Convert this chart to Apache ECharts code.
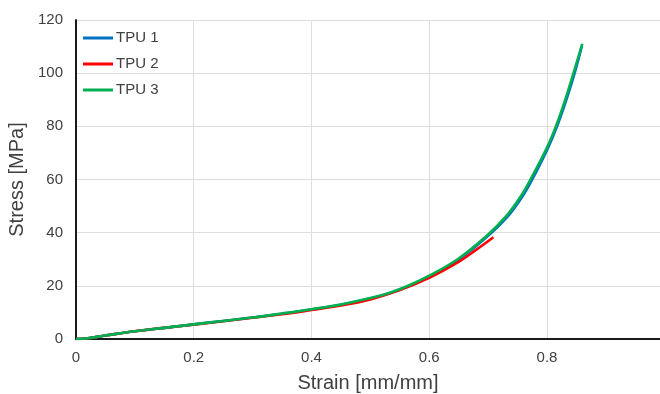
<!DOCTYPE html>
<html>
<head>
<meta charset="utf-8">
<script src="https://cdn.jsdelivr.net/npm/echarts@6/dist/echarts.min.js"></script>
<style>
html,body{margin:0;padding:0;background:#fff;}
#chart{width:660px;height:394px;}
</style>
</head>
<body>
<div id="chart"></div>
<script>
const seriesNames = ['TPU 1', 'TPU 2', 'TPU 3'];
const seriesColors = ['#0070C0', '#FF0000', '#00B050'];

const tpu1 = [[0,0],[0.02,0.3],[0.05,1.3],[0.1,2.9],[0.15,4.2],[0.2,5.5],[0.25,6.8],[0.3,8.1],[0.35,9.5],[0.4,11.1],[0.45,12.9],[0.5,15.2],[0.533,17.2],[0.567,20.0],[0.6,23.5],[0.65,29.9],[0.7,38.8],[0.733,46],[0.758,53.5],[0.775,60],[0.802,72],[0.818,80.5],[0.833,90],[0.847,100],[0.859,110]];
const tpu2 = [[0,0],[0.02,0.3],[0.05,1.3],[0.1,2.9],[0.15,4.2],[0.2,5.4],[0.25,6.7],[0.3,8.0],[0.35,9.3],[0.4,10.9],[0.45,12.6],[0.5,14.9],[0.55,18.4],[0.6,23.0],[0.65,29.0],[0.68,33.6],[0.709,38.3]];
const tpu3 = [[0,0],[0.02,0.3],[0.05,1.3],[0.1,2.9],[0.15,4.2],[0.2,5.5],[0.25,6.8],[0.3,8.1],[0.35,9.6],[0.4,11.2],[0.45,13.0],[0.5,15.4],[0.533,17.4],[0.567,20.3],[0.6,23.8],[0.65,30.3],[0.7,39.3],[0.73,46],[0.755,53.5],[0.772,60],[0.8,72],[0.816,80.5],[0.831,90],[0.845,100],[0.86,111]];
const seriesData = [tpu1, tpu2, tpu3];

const xTicks = [0, 0.2, 0.4, 0.6, 0.8];
const yTicks = [0, 20, 40, 60, 80, 100, 120];

const font = '"Liberation Sans", Arial, sans-serif';
const chart = echarts.init(document.getElementById('chart'), null, {renderer: 'canvas'});
chart.setOption({
  animation: false,
  backgroundColor: '#fff',
  grid: {left: 76, right: 0, top: 20, bottom: 55, containLabel: false, outerBoundsMode: 'none'},
  legend: {
    orient: 'vertical', left: 83, top: 25, padding: 0,
    icon: 'rect', itemWidth: 30, itemHeight: 3, itemGap: 0,
    textStyle: {fontFamily: font, fontSize: 15, color: '#404040', lineHeight: 26, padding: [0,0,0,-2]},
    data: seriesNames
  },
  xAxis: {
    type: 'value', min: 0, max: 0.992, interval: 0.2,
    name: 'Strain [mm/mm]', nameLocation: 'middle', nameGap: 34,
    nameTextStyle: {fontFamily: font, fontSize: 20, color: '#404040'},
    axisLine: {show: true, lineStyle: {color: '#1a1a1a', width: 2}},
    axisTick: {show: false},
    axisLabel: {fontFamily: font, fontSize: 15, color: '#404040', margin: 11,
      formatter: v => { const r = Math.round(v*10)/10; return (Math.abs(v - r) < 1e-6 && xTicks.indexOf(r) >= 0) ? String(r) : ''; }},
    splitLine: {show: true, lineStyle: {color: '#dedede', width: 1}}
  },
  yAxis: {
    type: 'value', min: 0, max: 120, interval: 20,
    name: 'Stress [MPa]', nameLocation: 'middle', nameGap: 38,
    nameTextStyle: {fontFamily: font, fontSize: 20, color: '#404040'},
    axisLine: {show: true, lineStyle: {color: '#1a1a1a', width: 2}},
    axisTick: {show: false},
    axisLabel: {fontFamily: font, fontSize: 15, color: '#404040', margin: 13,
      formatter: v => (yTicks.indexOf(v) >= 0 ? String(v) : '')},
    splitLine: {show: true, lineStyle: {color: '#dedede', width: 1}}
  },
  series: seriesNames.map((n, i) => ({
    name: n, type: 'line', data: seriesData[i], smooth: 0.4,
    symbol: 'none', showSymbol: false,
    lineStyle: {color: seriesColors[i], width: 2.6},
    itemStyle: {color: seriesColors[i]},
    z: 2 + i
  }))
});
</script>
</body>
</html>
